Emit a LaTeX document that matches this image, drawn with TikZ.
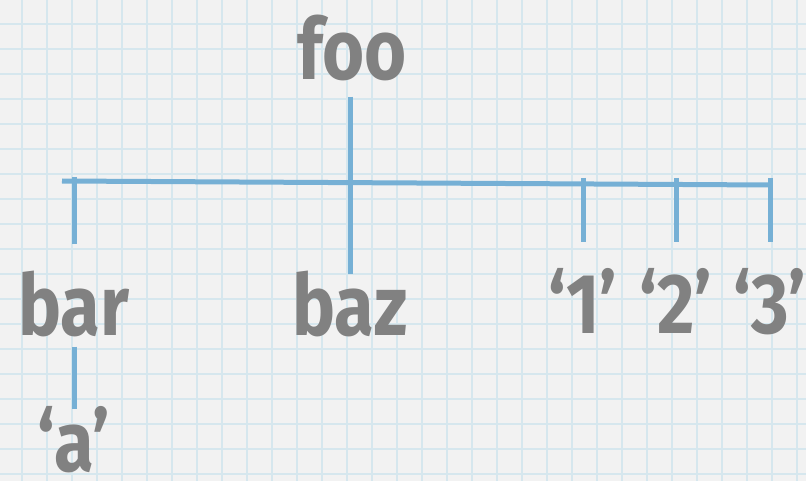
\documentclass[tikz,border=0pt]{standalone}
\usepackage{fontspec}
\newfontfamily\handfont{Fira Sans}[FakeStretch=0.85]
\definecolor{paper}{RGB}{242,242,242}
\definecolor{gridblue}{RGB}{214,231,238}
\definecolor{treeblue}{RGB}{118,176,213}
\definecolor{inkgray}{RGB}{129,129,129}

\begin{document}
\begin{tikzpicture}[
    x=1pt, y=-1pt,
    lbl/.style={font=\handfont\bfseries\fontsize{85}{85}\selectfont, text=inkgray, inner sep=0pt, anchor=base},
    link/.style={draw=treeblue, line width=5pt},
    gridline/.style={draw=gridblue, line width=1.6pt},
]
    % Paper
    \useasboundingbox (0,0) rectangle (806,481);
    \fill[paper] (0,0) rectangle (806,481);
    \foreach \gx in {22,47,...,797} \draw[gridline] (\gx,0) -- (\gx,481);
    \foreach \gy in {-1,24,...,474} \draw[gridline] (0,\gy) -- (806,\gy);

    % Labels
    \node[lbl] (foo) at (352,80) {foo};
    \node[lbl] (bar) at (74,335) {bar};
    \node[lbl] (baz) at (350,335) {baz};
    \node[lbl] (one) at (583,333) {‘1’};
    \node[lbl] (two) at (676,333) {‘2’};
    \node[lbl] (three) at (770,333) {‘3’};
    \node[lbl] (quoteA) at (74,471) {‘a’};

    % Cross bar
    \coordinate (crossL) at (62,181);
    \coordinate (crossR) at (771,185);
    \draw[link] (crossL) -- (crossR);

    % Stems
    \draw[link, shorten <=15pt, shorten >=-4pt] (foo.south -| baz.north) -- (baz.north);
    \draw[link, shorten >=26pt] (bar.north |- 0,177) -- (bar.north);
    \draw[link, shorten >=26pt] (one.north |- 0,178) -- (one.north);
    \draw[link, shorten >=26pt] (two.north |- 0,178) -- (two.north);
    \draw[link, shorten >=26pt] (three.north |- 0,178) -- (three.north);
    \draw[link, shorten <=10pt, shorten >=-3pt] (bar) -- (quoteA);
\end{tikzpicture}
\end{document}
